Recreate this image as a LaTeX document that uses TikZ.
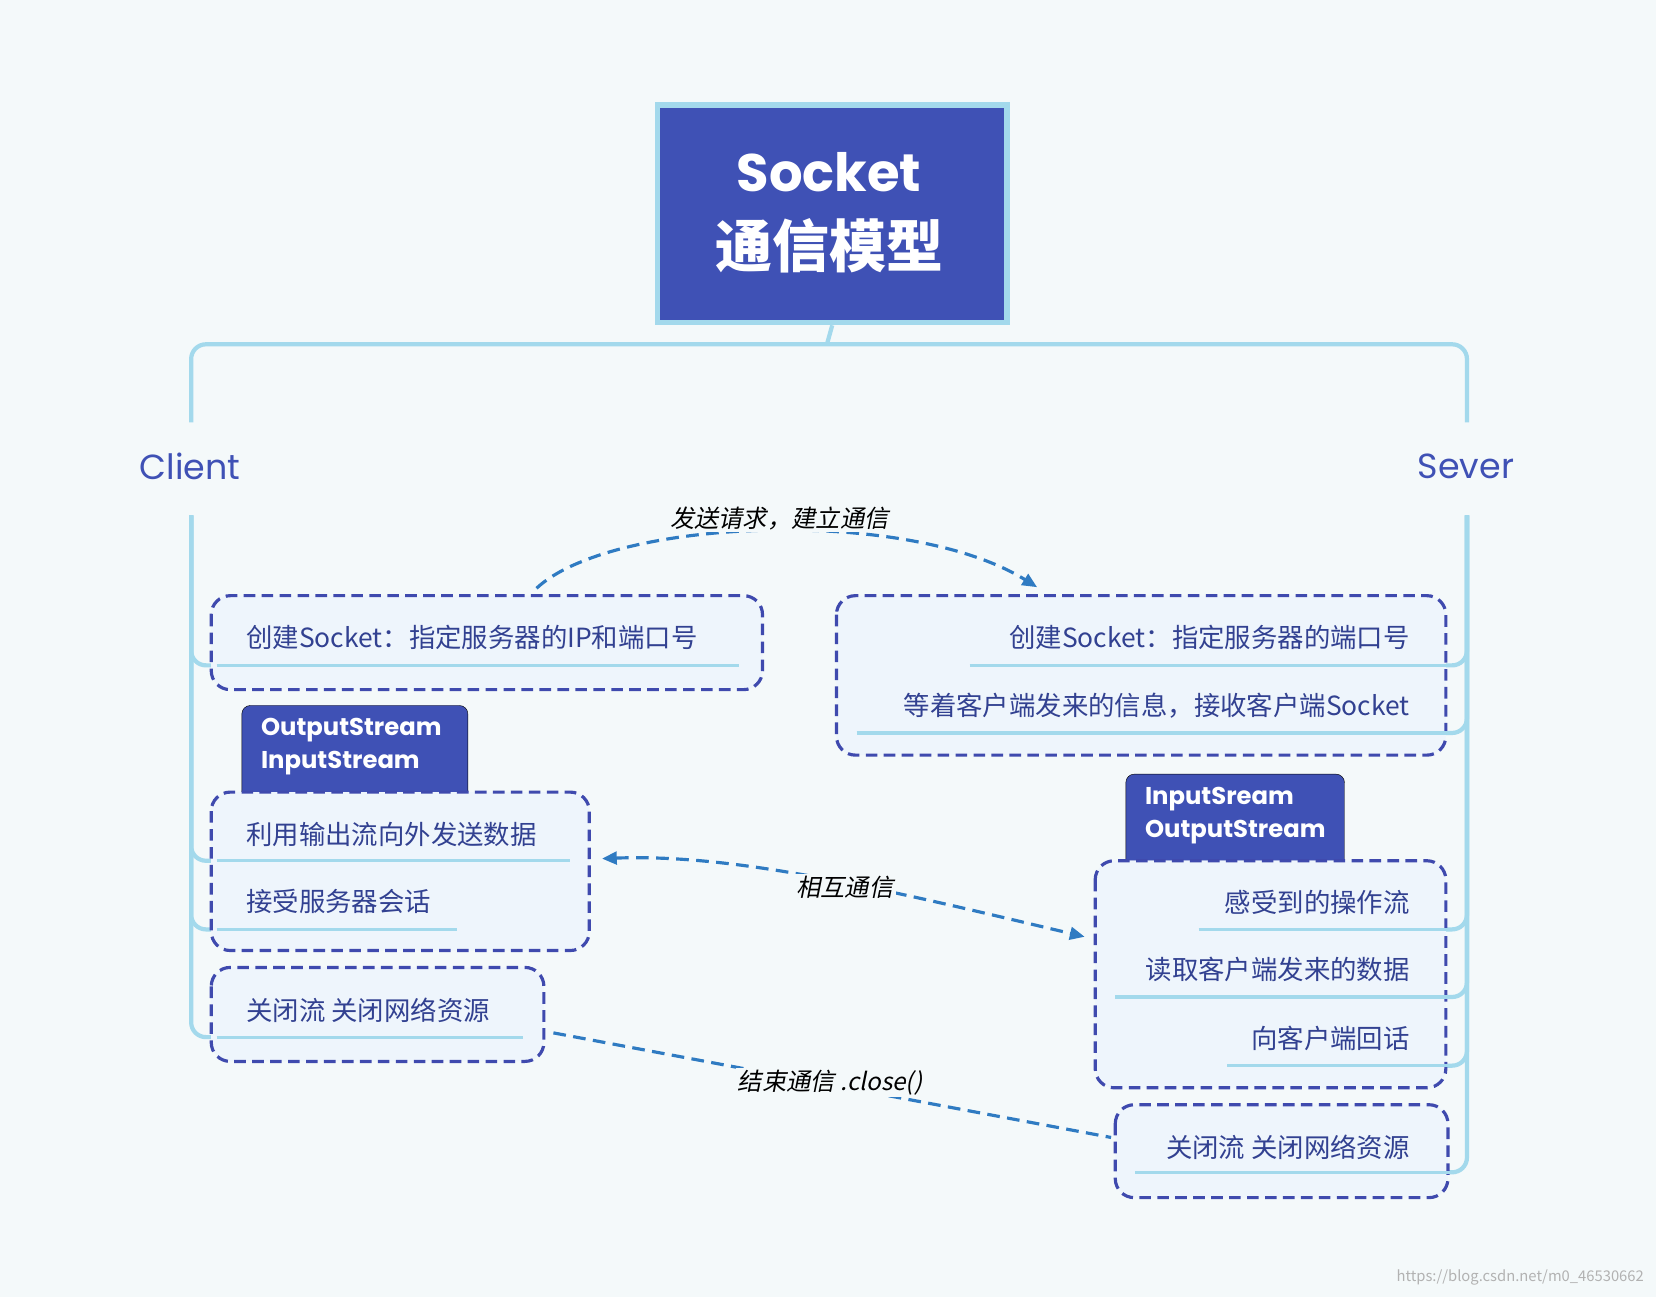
\documentclass[tikz,border=0pt]{standalone}
\usepackage{fontspec}
\setmainfont{Noto Sans CJK SC}
\newfontfamily\cjk{Noto Sans CJK SC}
\newfontfamily\cjkit[FakeSlant=0.2]{Noto Sans CJK SC}
\newfontfamily\lat{Poppins}
\usetikzlibrary{arrows.meta}
\definecolor{bg}{HTML}{F4F9FA}
\definecolor{indigo}{HTML}{3F51B5}
\definecolor{lb}{HTML}{A3D9EC}
\definecolor{boxfill}{HTML}{EEF5FC}
\definecolor{dash}{HTML}{3F4AAE}
\definecolor{arr}{HTML}{2F7BC2}
\begin{document}
\begin{tikzpicture}[x=1pt,y=-1pt,
  box/.style={draw=dash,line width=3pt,dash pattern=on 11pt off 6pt,fill=boxfill,rounded corners=18pt},
  tab/.style={fill=indigo,rounded corners=8pt},
  tabtxt/.style={text=white,font=\lat\bfseries\fontsize{23}{31}\selectfont,align=left,anchor=north west,inner sep=0},
  itm/.style={text=indigo!80!black,font=\cjk\fontsize{25}{30}\selectfont,inner sep=0},
  ul/.style={draw=lb,line width=3pt},
  trunk/.style={draw=lb,line width=4pt,rounded corners=14pt},
  lbl/.style={font=\cjkit\fontsize{23}{28}\selectfont,fill=bg,inner sep=2pt},
  con/.style={draw=arr,line width=3pt,dash pattern=on 12pt off 7pt}]
\fill[bg] (0,0) rectangle (1568,1228);
\useasboundingbox (0,0) rectangle (1568,1228);
% title
\node[draw=lb,line width=5pt,fill=indigo,minimum width=331pt,minimum height=206pt,anchor=north west] (title) at (620,97) {};
\node[text=white,font=\lat\bfseries\fontsize{50}{56}\selectfont] (t1) at (785,163) {Socket};
\node[text=white,font=\cjk\bfseries\fontsize{54}{60}\selectfont] (t2) at (785,233) {通信模型};
\draw[trunk] (title.south) -- (783,326);
\draw[trunk] (181,400) -- (181,326) -- (1389,326) -- (1389,400);
\node[text=indigo,font=\lat\fontsize{33}{40}\selectfont] (client) at (180,442) {Client};
\node[text=indigo,font=\lat\fontsize{33}{40}\selectfont] (sever) at (1388,442) {Sever};
% left trunk
\foreach \y/\e in {630/700,815/540,880/433,982/495}{
  \draw[trunk] (181,488) |- (\e,\y);}
% right trunk
\foreach \y/\s in {630/918,694/811,880/1135,944/1056,1009/1162,1110/1075}{
  \draw[trunk] (1389,488) |- (\s,\y);}
% left boxes
\draw[box] (200,564) rectangle (722,653);
\node[itm,anchor=west] (l1) at (233,604) {创建Socket：指定服务器的IP和端口号};
\draw[ul] (205,630) -- (700,630);
\draw[tab] (229,750) -- (229,668) -- (443,668) -- (443,750);
\node[tabtxt] (lt) at (247,680) {OutputStream\\InputStream};
\draw[box] (200,750) rectangle (558,900);
\node[itm,anchor=west] (l2) at (233,790) {利用输出流向外发送数据};
\draw[ul] (205,815) -- (540,815);
\node[itm,anchor=west] (l3) at (233,854) {接受服务器会话};
\draw[ul] (205,880) -- (433,880);
\draw[box] (200,916) rectangle (515,1005);
\node[itm,anchor=west] (l4) at (233,957) {关闭流 关闭网络资源};
\draw[ul] (205,982) -- (495,982);
% right boxes
\draw[box] (792,564) rectangle (1369,715);
\node[itm,anchor=east] (r1) at (1335,604) {创建Socket：指定服务器的端口号};
\draw[ul] (918,630) -- (1375,630);
\node[itm,anchor=east] (r2) at (1335,668) {等着客户端发来的信息，接收客户端Socket};
\draw[ul] (811,694) -- (1375,694);
\draw[tab] (1066,815) -- (1066,733) -- (1273,733) -- (1273,815);
\node[tabtxt] (rt) at (1084,745) {InputSream\\OutputStream};
\draw[box] (1037,815) rectangle (1369,1030);
\node[itm,anchor=east] (r3) at (1335,854) {感受到的操作流};
\draw[ul] (1135,880) -- (1375,880);
\node[itm,anchor=east] (r4) at (1335,918) {读取客户端发来的数据};
\draw[ul] (1056,944) -- (1375,944);
\node[itm,anchor=east] (r5) at (1335,983) {向客户端回话};
\draw[ul] (1162,1009) -- (1375,1009);
\draw[box] (1056,1046) rectangle (1371,1134);
\node[itm,anchor=east] (r6) at (1335,1086) {关闭流 关闭网络资源};
\draw[ul] (1075,1110) -- (1375,1110);
% connectors
\coordinate (a1) at (508,557); \coordinate (a2) at (982,556);
\coordinate (b1) at (570,813); \coordinate (b2) at (1027,887);
\coordinate (c1) at (524,978); \coordinate (c2) at (1052,1077);
\draw[con,-{Triangle[length=14pt,width=12pt]}] (a1) .. controls (580,490) and (860,480) .. (a2);
\node[lbl] (la) at (738,491) {发送请求，建立通信};
\draw[con,{Triangle[length=14pt,width=12pt]}-{Triangle[length=14pt,width=12pt]}] (b1) .. controls (700,808) and (850,845) .. (b2);
\node[lbl] (lb2) at (800,840) {相互通信};
\draw[con] (c1) -- (c2);
\node[lbl] (lc) at (786,1025) {结束通信 .close()};
\node[text=gray!60,font=\cjk\fontsize{14}{16}\selectfont,anchor=east] (wm) at (1560,1210) {https://blog.csdn.net/m0\_46530662};
\end{tikzpicture}
\end{document}
